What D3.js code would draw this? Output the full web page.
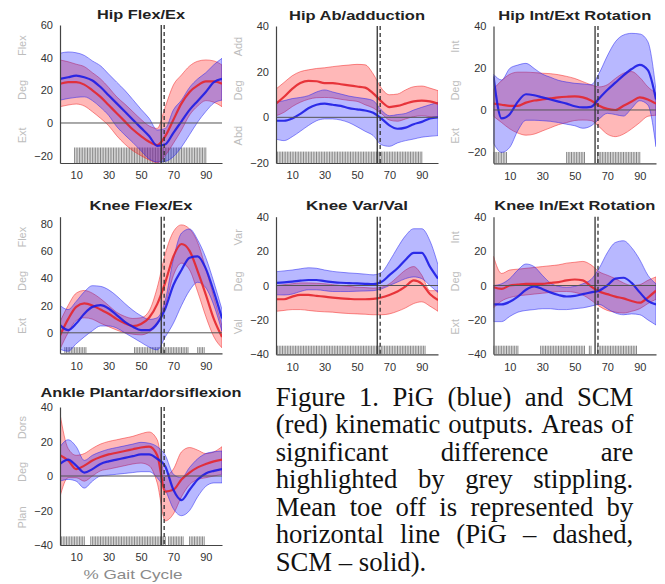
<!DOCTYPE html>
<html>
<head>
<meta charset="utf-8">
<script src="https://cdn.jsdelivr.net/npm/d3@7"></script>
<style>
  body { margin: 0; background: #fff; }
  svg { display: block; font-family: "Liberation Sans", Arial, sans-serif; }
</style>
</head>
<body>
<div id="chart"></div>
<script>
// % gait cycle sample points
const pct = [0, 5, 10, 15, 20, 25, 30, 35, 40, 45, 50, 55, 60, 65, 70, 75, 80, 85, 90, 95, 100];
const xTicks = [10, 30, 50, 70, 90];

// Hip Flex/Ex
const hipFlexPigMean = [27, 28, 29, 28, 26, 22, 17, 12, 7, 2, -3, -8, -14, -13, -6, 1, 8, 13.5, 19, 25, 27];
const hipFlexPigHi = [42.7, 43.5, 43, 41.4, 38, 35, 30, 25, 20, 14.3, 8.4, 2.9, -4.3, -3.3, 8, 14, 21.8, 27, 30.8, 35.7, 39.6];
const hipFlexPigLo = [14, 15, 15.7, 16, 13.7, 9.6, 4.7, -2.2, -7.3, -12, -17, -22, -23.9, -23.5, -20.6, -14.7, -7.1, 0.6, 7, 12.2, 14];
const hipFlexScmMean = [24, 25, 25, 23.5, 20, 16, 11, 6, 1, -4, -8, -11.5, -13.5, -8, 2, 12, 19, 23, 25.5, 25.5, 24];
const hipFlexScmHi = [38.6, 37.5, 36, 34.5, 30.8, 27, 21.8, 16, 11.6, 6.9, 2.2, -1.8, -3.3, 10, 23.3, 29.4, 34.9, 37.8, 38.6, 38, 35.5];
const hipFlexScmLo = [10, 11, 11.6, 10.4, 6.9, 2.9, -1.6, -7.8, -12.9, -17, -20, -22.6, -24.3, -19.8, -12.4, -4.3, 4.9, 10.4, 13.7, 12.7, 10];

// Hip Ab/adduction
const hipAbPigMean = [-1.5, -1.5, -0.5, 1.5, 4, 5.5, 6, 5.5, 5, 4, 3.5, 3, 2, -0.5, -3.5, -5, -4.5, -3, -2, -0.5, 0];
const hipAbPigHi = [6.6, 7.3, 8.2, 8.7, 9.5, 11.1, 12, 11.1, 10.2, 9.3, 8.7, 8.2, 7.3, 3.2, 0.7, 1.2, 1.7, 3.2, 4.4, 5.5, 6.6];
const hipAbPigLo = [-9.5, -10.2, -8.5, -6.1, -3.6, -1.5, -0.7, -0.7, -1.2, -2.3, -4.1, -6.1, -8, -12, -12.7, -11.2, -10.2, -9.5, -8.7, -8.3, -8];
const hipAbScmMean = [6, 9, 12.5, 15, 16, 15.8, 15, 15, 14.5, 14, 13.5, 13, 10.5, 7, 4.5, 5, 6, 7, 7.3, 7, 6];
const hipAbScmHi = [12.4, 15.3, 18.2, 20, 20.8, 21.4, 21.7, 22.2, 22.6, 22.9, 23.2, 23, 19, 12.8, 9.9, 10.2, 12, 13.4, 13.7, 12.8, 11.7];
const hipAbScmLo = [0.7, 2.2, 4.7, 6.6, 7.9, 8.6, 8.7, 8.5, 7.9, 7.4, 7, 5.5, 4.1, 1.7, -1.2, -1.7, -0.7, 0.3, 0.7, 0.3, 0];

// Hip Int/Ext Rotation
const hipRotPigMean = [16, -4, -2, 4, 7.5, 7, 6, 5, 4, 3, 1.8, 1.2, 1.5, 5.5, 9.5, 13, 16.5, 19.5, 21.5, 19, 5];
const hipRotPigHi = [17, 14.3, 19.8, 21.4, 22.2, 19.8, 17.1, 15.6, 14.1, 13.3, 12.7, 12.4, 12, 17.5, 25.7, 32.5, 35.7, 36.5, 36.2, 32.5, 9.5];
const hipRotPigLo = [-15.9, -20.2, -17.8, -9.8, -4.9, -4.9, -5.1, -5.4, -6, -6.8, -7.5, -8.7, -7.6, -4.3, -1.6, -2.2, -2.9, 0.8, 4.4, 2.4, -17.5];
const hipRotScmMean = [3, 2.5, 2, 2, 3.5, 4.5, 5, 5.5, 6, 6.3, 6.5, 6, 4.5, 2, 0.5, 0, 2, 4, 6, 5, 3];
const hipRotScmHi = [10, 14, 17, 18, 18, 17.8, 17.5, 17.3, 16.8, 16, 15, 13.5, 12, 11, 12, 15, 17.5, 18.3, 15.5, 11, 8];
const hipRotScmLo = [-3, -6, -9, -11, -12, -11.5, -10, -8.5, -7, -6, -5, -4.8, -5, -8, -11.5, -12.7, -11.5, -9, -6, -3, -2.5];

// Knee Flex/Ex
const kneeFlexPigMean = [5.6, 2, 6.8, 14, 19, 20.2, 17.8, 13, 8, 4.4, 2, 2, 6.8, 17.8, 35, 46, 55, 56, 47, 30, 10.5];
const kneeFlexPigHi = [20, 17, 23, 30, 34.5, 34, 31.5, 27, 21.5, 16.5, 12.5, 9.8, 11, 24, 54, 73, 76, 68, 55, 37, 17];
const kneeFlexPigLo = [-12, -13.5, -8, -3, 1.5, 5, 5, 3.5, 0, -3.5, -7, -10.5, -12.5, -3, 7, 20, 31, 37, 33, 20, 1];
const kneeFlexScmMean = [-2, 10, 19, 21.5, 20, 17, 14, 10, 7, 5, 6.5, 11, 21, 37, 56, 65, 60, 45, 28, 10, -3];
const kneeFlexScmHi = [8, 20, 29, 31, 29, 25, 20, 15, 12, 10.5, 11, 16, 33, 58, 74, 79, 76, 66, 47, 26, 5];
const kneeFlexScmLo = [-12, 0, 9, 11, 10, 7, 4.5, 2, 0, -1, -1.5, 0.5, 6, 20, 42, 51, 46, 30, 12, -3, -11];

// Knee Var/Val
const kneeVarPigMean = [1.5, 1.8, 2.2, 2.8, 3.2, 3.2, 2.5, 2, 1.6, 1.4, 1.2, 1, 0.8, 2, 6, 10, 15, 19, 19, 11, 4];
const kneeVarPigHi = [8, 8.5, 9, 9.7, 10.3, 10, 9, 8.2, 7.7, 7.3, 7, 6.6, 6.2, 7.5, 14, 22, 29, 33, 33, 26, 12];
const kneeVarPigLo = [-5.4, -5.5, -5, -3.5, -2.5, -2.5, -3, -3.5, -3.5, -3.5, -3.3, -3.2, -3, -2, 0, 2, 4, 5, 4, 0, -4];
const kneeVarScmMean = [-8, -8, -6.5, -5.5, -5.5, -6, -6.5, -7, -7.5, -7.8, -8, -8, -7.8, -7, -5.5, -3.5, -0.5, 3, 1, -5, -8.5];
const kneeVarScmHi = [0, 0.5, 1, 1.5, 1.5, 1.3, 1, 0.5, 0, -0.5, -1, -1.2, -1.5, -1, 1, 5, 9, 11, 6, -3, -3];
const kneeVarScmLo = [-15, -14.5, -14, -14, -14.5, -15, -15.3, -15.5, -16, -16.3, -16.5, -16.7, -17, -17, -16.5, -15, -13, -10.5, -9.5, -12, -15];

// Knee In/Ext Rotation
const kneeRotPigMean = [-11, -11, -9.5, -6.5, -2.5, -0.5, -2, -4, -5.5, -6.4, -6, -5, -4, -3, 0, 4, 4.5, 1.5, -4, -9, -11];
const kneeRotPigHi = [0, 1, 4, 9, 12.5, 11, 6, 1.5, -0.5, -1, -0.5, 1, 3.5, 10, 19, 25, 26, 22, 15, 6, 1];
const kneeRotPigLo = [-21, -21, -18, -15.5, -14.5, -14, -13.5, -13.5, -14, -14, -13.5, -13, -12, -11, -13.5, -16, -17, -16.5, -17, -20, -23];
const kneeRotScmMean = [-1, -2, 0, 0.5, 1, 1, 1, 1.5, 2, 3, 3.5, 3, -0.5, -3.5, -5, -6.5, -7.5, -9, -10, -7, -3];
const kneeRotScmHi = [17, 7, 9, 9.5, 10, 10.5, 11, 11.5, 12, 13, 13.5, 14, 12, 8, 6, 4, 1.5, 0, 0.5, 3, 5];
const kneeRotScmLo = [-13, -9, -7, -6, -5.5, -5, -4.5, -4, -3.5, -3.5, -4, -5.5, -8.5, -12, -14.5, -15.5, -16, -15, -13.5, -10.5, -8];

// Ankle Plantar/dorsiflexion
const anklePigMean = [7, 9.5, 6, 2, 4, 7, 8.5, 9.5, 10.5, 11.5, 12.5, 12.5, 10, 5.5, -8, -14, -8, -2, 1.5, 3, 4];
const anklePigHi = [17, 21, 17, 9, 12, 14, 15.5, 16.5, 17.5, 18.5, 19.5, 19, 17, 12, 1, -1, 5, 10, 13, 14, 14.5];
const anklePigLo = [-3, -2, -3, -7, -3, 0, 0.5, 1, 1.5, 2, 2.5, 2.5, -1, -8, -19, -23, -20, -12, -6, -4, -4];
const ankleScmMean = [12, 9, 4, 6, 9, 11, 12.5, 13.5, 14.5, 15.5, 16.5, 17, 12, -9, -8, -2, 2, 5, 7, 8.5, 9.5];
const ankleScmHi = [36, 16, 12, 13, 16, 18.5, 20, 21, 22, 23, 24.5, 25.5, 21, 0, 4, 14, 16.5, 15, 13, 14, 17];
const ankleScmLo = [-12, -1, -1, -3, 0, 3, 4, 5, 6, 7, 7.5, 6, -4, -26, -22, -12, -5, -2, -1, 0, 1];

// mean toe off (% gait cycle)
const toeOffScm = 62.5;
const toeOffPig = 64.3;

// significant difference ranges (% gait cycle)
const hipFlexSig = [[9, 90]];
const hipAbSig = [[0, 90]];
const hipRotSig = [[0, 8], [45, 56], [64, 90]];
const kneeFlexSig = [[3, 16], [46, 79], [85, 89]];
const kneeVarSig = [[0, 92]];
const kneeRotSig = [[0, 15], [29, 56], [59, 60], [64, 88]];
const ankleSig = [[0, 15], [19, 65], [67, 76], [80, 89]];

const captionLines = [
  "Figure 1. PiG (blue) and SCM",
  "(red) kinematic outputs. Areas of",
  "significant difference are",
  "highlighted by grey stippling.",
  "Mean toe off is represented by",
  "horizontal line (PiG \u2013 dashed,",
  "SCM \u2013 solid)."
];

const panels = [
  { title: "Hip Flex/Ex", titleW: 88, x0: 60, x1: 222, yTop: 25, yBot: 163, dom: [-24.5, 60], ticks: [-20, 0, 20, 40, 60],
    labels: ["Flex", "Deg", "Ext"], sig: hipFlexSig, stipTop: -15,
    pig: [hipFlexPigMean, hipFlexPigLo, hipFlexPigHi], scm: [hipFlexScmMean, hipFlexScmLo, hipFlexScmHi] },
  { title: "Hip Ab/adduction", titleW: 136, x0: 276, x1: 438, yTop: 26, yBot: 163, dom: [-20, 40], ticks: [-20, 0, 20, 40],
    labels: ["Add", "Deg", "Abd"], sig: hipAbSig, stipTop: -15,
    pig: [hipAbPigMean, hipAbPigLo, hipAbPigHi], scm: [hipAbScmMean, hipAbScmLo, hipAbScmHi] },
  { title: "Hip Int/Ext Rotation", titleW: 153, x0: 493.5, x1: 656, yTop: 26, yBot: 163.3, dom: [-25.4, 40], ticks: [-20, 0, 20, 40],
    labels: ["Int", "Deg", "Ext"], sig: hipRotSig, stipTop: -20,
    pig: [hipRotPigMean, hipRotPigLo, hipRotPigHi], scm: [hipRotScmMean, hipRotScmLo, hipRotScmHi] },
  { title: "Knee Flex/Ex", titleW: 103, x0: 60, x1: 222, yTop: 216.7, yBot: 353.3, dom: [-15, 85], ticks: [0, 20, 40, 60, 80],
    labels: ["Flex", "Deg", "Ext"], sig: kneeFlexSig, stipTop: -10.5,
    pig: [kneeFlexPigMean, kneeFlexPigLo, kneeFlexPigHi], scm: [kneeFlexScmMean, kneeFlexScmLo, kneeFlexScmHi] },
  { title: "Knee Var/Val", titleW: 102, x0: 276, x1: 438, yTop: 216.7, yBot: 354.3, dom: [-40, 40], ticks: [-40, -20, 0, 20, 40],
    labels: ["Var", "Deg", "Val"], sig: kneeVarSig, stipTop: -35,
    pig: [kneeVarPigMean, kneeVarPigLo, kneeVarPigHi], scm: [kneeVarScmMean, kneeVarScmLo, kneeVarScmHi] },
  { title: "Knee In/Ext Rotation", titleW: 161, x0: 493.5, x1: 656, yTop: 216.7, yBot: 354.3, dom: [-40, 40], ticks: [-40, -20, 0, 20, 40],
    labels: ["Int", "Deg", "Ext"], sig: kneeRotSig, stipTop: -35,
    pig: [kneeRotPigMean, kneeRotPigLo, kneeRotPigHi], scm: [kneeRotScmMean, kneeRotScmLo, kneeRotScmHi] },
  { title: "Ankle Plantar/dorsiflexion", titleW: 201, titleBase: 397, x0: 60, x1: 222, yTop: 407, yBot: 545, dom: [-40, 40], ticks: [-40, -20, 0, 20, 40],
    labels: ["Dors", "Deg", "Plan"], sig: ankleSig, stipTop: -35, xLabel: "% Gait Cycle",
    pig: [anklePigMean, anklePigLo, anklePigHi], scm: [ankleScmMean, ankleScmLo, ankleScmHi] }
];

const width = 665, height = 584;

const svg = d3.select("#chart")
  .append("svg")
  .attr("width", width)
  .attr("height", height);

svg.append("rect").attr("width", width).attr("height", height).attr("fill", "#fff");
const defs = svg.append("defs");

panels.forEach((p, k) => {
  const x = d3.scaleLinear().domain([0, 100]).range([p.x0, p.x1]);
  const y = d3.scaleLinear().domain(p.dom).range([p.yBot, p.yTop]);
  const g = svg.append("g");

  defs.append("clipPath").attr("id", "clip" + k)
    .append("rect")
    .attr("x", p.x0).attr("y", p.yTop)
    .attr("width", p.x1 - p.x0).attr("height", p.yBot - p.yTop);

  const plot = g.append("g").attr("clip-path", `url(#clip${k})`);

  // grey stippling for significant difference
  p.sig.forEach(r => {
    plot.append("g").selectAll("line")
      .data(d3.range(r[0], r[1] + 1))
      .enter().append("line")
      .attr("x1", d => x(d)).attr("x2", d => x(d))
      .attr("y1", y(p.dom[0])).attr("y2", y(p.stipTop))
      .attr("stroke", "#7a7a7a")
      .attr("stroke-width", 0.9);
  });

  const band = d3.area()
    .x((d, i) => x(pct[i]))
    .y0(d => y(d[0]))
    .y1(d => y(d[1]))
    .curve(d3.curveMonotoneX);
  const mean = d3.line()
    .x((d, i) => x(pct[i]))
    .y(d => y(d))
    .curve(d3.curveMonotoneX);

  const series = [
    { v: p.scm, fill: "rgba(255,20,20,0.30)", edge: "rgba(240,30,30,0.55)", line: "#e4262c" },
    { v: p.pig, fill: "rgba(20,20,255,0.30)", edge: "rgba(30,30,240,0.55)", line: "#1c1ce6" }
  ];

  series.forEach(s => {
    plot.append("path")
      .datum(s.v[1].map((lo, i) => [lo, s.v[2][i]]))
      .attr("d", band)
      .attr("fill", s.fill)
      .attr("stroke", s.edge)
      .attr("stroke-width", 0.9);
  });

  // zero line
  g.append("line")
    .attr("x1", p.x0).attr("x2", p.x1)
    .attr("y1", y(0)).attr("y2", y(0))
    .attr("stroke", "#555").attr("stroke-width", 1);

  series.forEach(s => {
    plot.append("path")
      .datum(s.v[0])
      .attr("d", mean)
      .attr("fill", "none")
      .attr("stroke", s.line)
      .attr("stroke-opacity", 0.9)
      .attr("stroke-width", 2.2);
  });

  // toe off lines
  g.append("line")
    .attr("x1", x(toeOffScm)).attr("x2", x(toeOffScm))
    .attr("y1", p.yTop).attr("y2", p.yBot)
    .attr("stroke", "#333").attr("stroke-width", 1.3);
  g.append("line")
    .attr("x1", x(toeOffPig)).attr("x2", x(toeOffPig))
    .attr("y1", p.yTop).attr("y2", p.yBot)
    .attr("stroke", "#333").attr("stroke-width", 1.3)
    .attr("stroke-dasharray", "4,3");

  // axes
  const ay = g.append("g")
    .attr("transform", `translate(${p.x0},0)`)
    .call(d3.axisLeft(y).tickValues(p.ticks).tickSize(0).tickSizeOuter(0).tickPadding(7).tickFormat(d3.format("d")));
  const ax = g.append("g")
    .attr("transform", `translate(0,${p.yBot})`)
    .call(d3.axisBottom(x).tickValues(xTicks).tickSize(0).tickSizeOuter(0).tickPadding(8.5));
  [ay, ax].forEach(a => {
    a.select(".domain").attr("stroke", "#444").attr("stroke-width", 1.2);
    a.selectAll("text")
      .attr("font-size", "11px")
      .attr("fill", "#333")
      .attr("font-family", "'Liberation Sans', Arial, sans-serif");
  });

  // y labels
  const fr = [0.15, 0.47, 0.8];
  p.labels.forEach((t, i) => {
    const cy = p.yTop + fr[i] * (p.yBot - p.yTop);
    const cx = p.x0 - 38;
    g.append("text")
      .attr("transform", `translate(${cx},${cy}) rotate(-90)`)
      .attr("text-anchor", "middle")
      .attr("dy", "0.35em")
      .attr("font-size", "11px")
      .attr("fill", "#bdbdbd")
      .text(t);
  });

  // title
  const t = g.append("text")
    .attr("x", (p.x0 + p.x1) / 2 - p.titleW / 2)
    .attr("font-size", p.titleBase ? "12.5px" : "13px")
    .attr("font-weight", "bold")
    .attr("fill", "#222")
    .attr("textLength", p.titleW)
    .attr("lengthAdjust", "spacingAndGlyphs")
    .text(p.title);
  if (p.titleBase) t.attr("y", p.titleBase);
  else t.attr("y", p.yTop - 11).attr("dy", "0.36em");

  if (p.xLabel) {
    g.append("text")
      .attr("x", 133 - 49.5)
      .attr("y", 578.5)
      .attr("font-size", "13px")
      .attr("fill", "#8a8a8a")
      .attr("textLength", 99)
      .attr("lengthAdjust", "spacingAndGlyphs")
      .text(p.xLabel);
  }
});

// caption, justified
const capLeft = 275.7, capRight = 633.3, capTop = 406, capStep = 27.45;
const cap = svg.append("g")
  .attr("font-family", "'Liberation Serif', 'Times New Roman', serif")
  .attr("font-size", "26.7px")
  .attr("fill", "#111");

captionLines.forEach((line, li) => {
  const words = line.split(" ");
  const yy = capTop + li * capStep;
  const nodes = words.map(w => cap.append("text").attr("y", yy).text(w));
  const widths = nodes.map(n => n.node().getComputedTextLength());
  const total = d3.sum(widths);
  const last = li === captionLines.length - 1;
  const gap = last ? 6.7 : (capRight - capLeft - total) / (words.length - 1);
  let cx = capLeft;
  nodes.forEach((n, i) => {
    n.attr("x", cx);
    cx += widths[i] + gap;
  });
});
</script>
</body>
</html>
